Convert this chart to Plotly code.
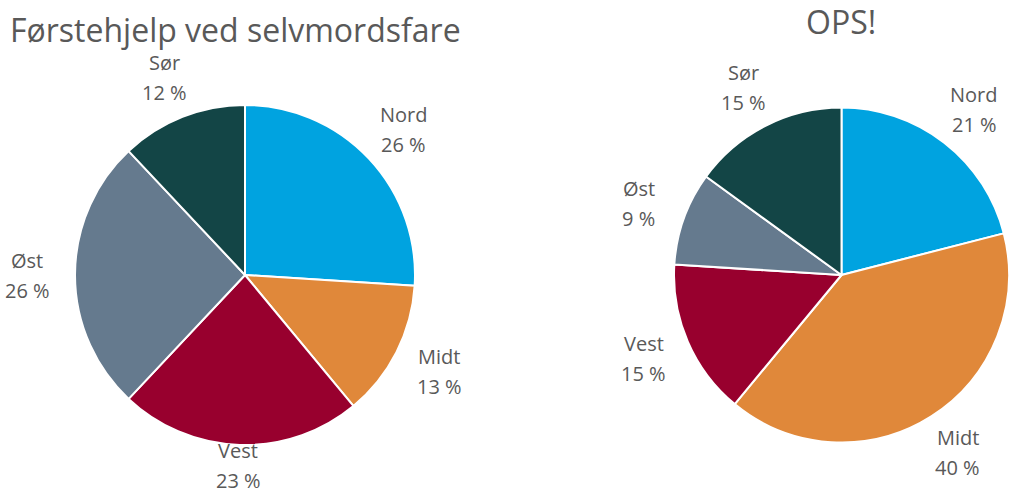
import math
import plotly.graph_objects as go

# ---- data ----
categories = ["Nord", "Midt", "Vest", "Øst", "Sør"]
left_values = [26, 13, 23, 26, 12]
right_values = [21, 40, 15, 9, 15]
left_title = "Førstehjelp ved selvmordsfare"
right_title = "OPS!"
colors = ["#00A3E0", "#E0883A", "#98002E", "#657A8E", "#134546"]

# ---- layout constants ----
W, H = 1009, 495
FONT = "Open Sans"
TXT = "#595959"
pies = [
    dict(values=left_values, title=left_title, cx=245, cy=275, r=170, tx=235, ty=29),
    dict(values=right_values, title=right_title, cx=842, cy=275, r=168, tx=841, ty=22),
]

fig = go.Figure()
annotations = []


def px2paper(x, y):
    return x / W, 1 - y / H


for p in pies:
    cx, cy, r = p["cx"], p["cy"], p["r"]
    x0, y0 = px2paper(cx - r, cy + r)
    x1, y1 = px2paper(cx + r, cy - r)
    fig.add_trace(go.Pie(
        labels=categories, values=p["values"], sort=False, direction="clockwise",
        rotation=0, textinfo="none", showlegend=False,
        marker=dict(colors=colors, line=dict(color="white", width=2)),
        domain=dict(x=[max(0, x0), min(1, x1)], y=[y0, y1]),
        hovertemplate="%{label}: %{value} %<extra></extra>",
    ))
    # labels placed outside each slice, at the slice's mid-angle
    total = sum(p["values"])
    cum = 0
    rx, ry = r + 48, r + 42
    for name, v in zip(categories, p["values"]):
        ang = (cum + v / 2) / total * 2 * math.pi
        cum += v
        dx, dy = math.sin(ang), -math.cos(ang)
        ex = min(cx + rx * dx, W - 25)
        ey = min(cy + ry * dy, H - 30)
        for txt, off in ((name, -15), (f"{v} %", 15)):
            ax, ay = px2paper(ex, ey + off)
            annotations.append(dict(
                x=ax, y=ay, xref="paper", yref="paper", text=txt, showarrow=False,
                xanchor="center", yanchor="middle", borderpad=0,
                font=dict(family=FONT, size=20, color=TXT)))
    tx, ty = px2paper(p["tx"], p["ty"])
    annotations.append(dict(
        x=tx, y=ty, xref="paper", yref="paper", text=p["title"], showarrow=False,
        xanchor="center", yanchor="middle",
        font=dict(family=FONT, size=32, color=TXT)))

fig.update_layout(
    width=W, height=H, margin=dict(l=0, r=0, t=0, b=0),
    paper_bgcolor="white", plot_bgcolor="white",
    annotations=annotations,
)
fig.write_html("out.html", config={"displayModeBar": False},
               post_script="document.body.style.margin='0';document.body.style.overflow='hidden';")
